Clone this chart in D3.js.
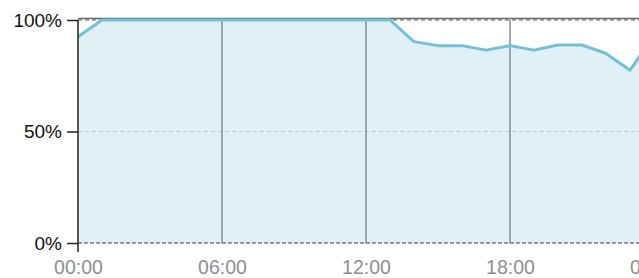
<!DOCTYPE html>
<html>
<head>
<meta charset="utf-8">
<title>chart</title>
<script src="https://cdn.jsdelivr.net/npm/d3@7"></script>
<style>
  body { margin: 0; background: #fff; }
  svg { display: block; font-family: "Liberation Sans", Arial, sans-serif; }
</style>
</head>
<body>
<script>
// hourly values, 00:00 to next 00:00
const hours = [0,1,2,3,4,5,6,7,8,9,10,11,12,13,14,15,16,17,18,19,20,21,22,23,24];
const values = [92.5,100,100,100,100,100,100,100,100,100,100,100,100,100,90.3,88.5,88.5,86.5,88.5,86.5,88.8,88.8,85,77.5,93];
const xTicks = [0, 6, 12, 18, 24];
const xTickLabels = ["00:00", "06:00", "12:00", "18:00", "00:00"];
const yTicks = [0, 50, 100];

const width = 639, height = 278;
const data = hours.map((h, i) => ({ h: h, v: values[i] }));

const svg = d3.select("body").append("svg")
  .attr("width", width)
  .attr("height", height);

const x = d3.scaleLinear().domain([0, 24]).range([78, 654]);
const y = d3.scaleLinear().domain([0, 100]).range([243, 20]);

// area fill
svg.append("path")
  .datum(data)
  .attr("fill", "#e1f0f6")
  .attr("d", d3.area().x(d => x(d.h)).y0(y(0)).y1(d => y(d.v)));

// 50% grid line
svg.append("line")
  .attr("x1", x(0)).attr("x2", width)
  .attr("y1", y(50)).attr("y2", y(50))
  .attr("stroke", "#c4cbcf").attr("stroke-dasharray", "4,3");

// top frame and dashed 100% grid
svg.append("line")
  .attr("x1", x(0)).attr("x2", width)
  .attr("y1", y(100) - 1.5).attr("y2", y(100) - 1.5)
  .attr("stroke", "#666").attr("stroke-width", 1.5);
svg.append("line")
  .attr("x1", x(0)).attr("x2", width)
  .attr("y1", y(100)).attr("y2", y(100))
  .attr("stroke", "#555").attr("stroke-dasharray", "4,3");

// vertical lines at 6h steps
svg.selectAll(".vgrid")
  .data(xTicks.filter(t => t > 0 && t < 24))
  .enter().append("line")
  .attr("class", "vgrid")
  .attr("x1", d => x(d)).attr("x2", d => x(d))
  .attr("y1", y(100)).attr("y2", y(0))
  .attr("stroke", "#7f8c95").attr("stroke-width", 1.5);

// baseline
svg.append("line")
  .attr("x1", x(0)).attr("x2", width)
  .attr("y1", y(0)).attr("y2", y(0))
  .attr("stroke", "#2c3e50").attr("stroke-dasharray", "4,2");

// data line
svg.append("path")
  .datum(data)
  .attr("fill", "none")
  .attr("stroke", "#72c1d4")
  .attr("stroke-width", 3)
  .attr("stroke-linejoin", "round")
  .attr("d", d3.line().x(d => x(d.h)).y(d => y(d.v)));

// y axis
const yAxis = svg.append("g")
  .attr("transform", "translate(" + x(0) + ",0)")
  .call(d3.axisLeft(y).tickValues(yTicks).tickSize(11).tickPadding(5)
    .tickFormat(d => d + "%"));
yAxis.select(".domain").attr("stroke", "#222").attr("stroke-width", 1.5)
  .attr("d", "M0," + y(100) + "V" + (y(0) + 9));
yAxis.selectAll(".tick line").attr("stroke", "#222").attr("stroke-width", 1.5);
yAxis.selectAll("text").attr("fill", "#111").style("font-size", "19px");
yAxis.attr("font-family", null).attr("font-size", null);

// x axis
const xAxis = svg.append("g")
  .attr("transform", "translate(0," + y(0) + ")")
  .call(d3.axisBottom(x).tickValues(xTicks).tickSize(0).tickPadding(17)
    .tickFormat((d, i) => xTickLabels[i]));
xAxis.select(".domain").remove();
xAxis.selectAll("text").attr("fill", "#8a8f94").style("font-size", "19.5px");
xAxis.attr("font-family", null).attr("font-size", null);
</script>
</body>
</html>
